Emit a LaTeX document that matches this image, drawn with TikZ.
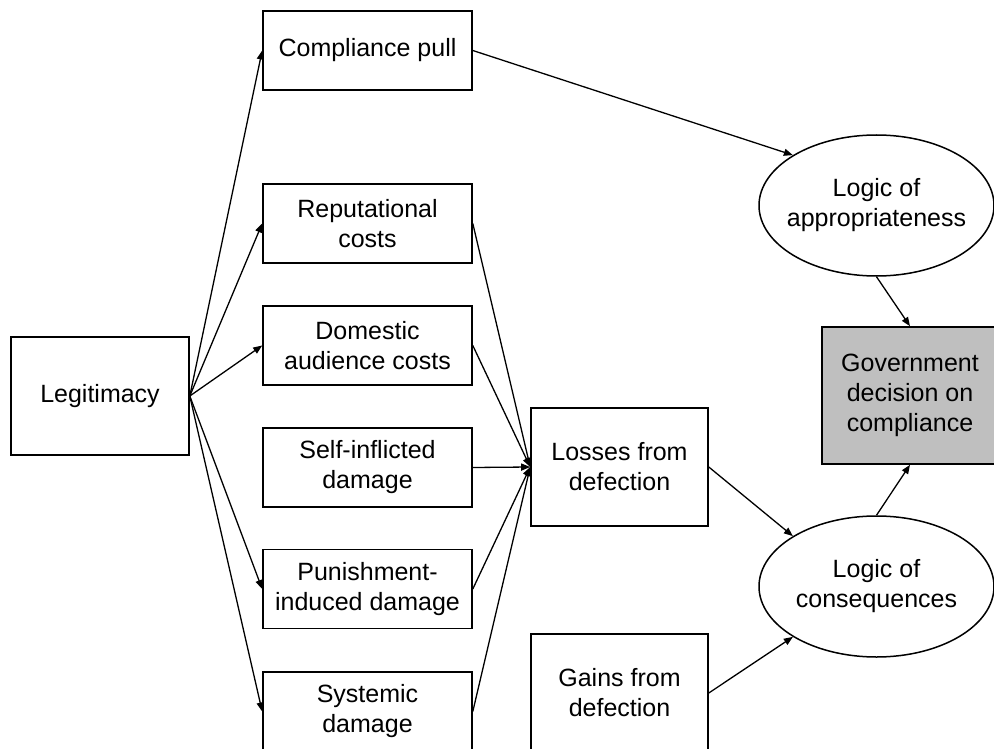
\documentclass[tikz,border=0pt]{standalone}
\usepackage{fontspec}
\setmainfont{Liberation Sans}
\usetikzlibrary{shapes.geometric,arrows.meta}

\tikzset{
  box/.style={draw, line width=1.6pt, rectangle, inner sep=0pt, align=center,
              minimum width=209pt, minimum height=79pt},
  bigbox/.style={box, minimum width=177pt, minimum height=118pt},
  govbox/.style={box, fill=black!25, minimum width=176pt, minimum height=137pt},
  oval/.style={draw, line width=1.5pt, ellipse, inner sep=0pt,
               minimum width=235pt, minimum height=141pt},
  ovaltext/.style={align=center},
  link/.style={line width=1.3pt, -{Triangle[length=9pt,width=7pt]}},
}

\begin{document}
\begin{tikzpicture}[x=1pt, y=-1pt, font=\fontsize{25}{30}\selectfont]
  \useasboundingbox (0,0) rectangle (994,749);

  % left column of drivers
  \node[box] (comp) at (367.5,50.5)  {Compliance pull};
  \node[box] (rep)  at (367.5,223.5) {Reputational\\costs};
  \node[box] (dom)  at (367.5,345.5) {Domestic\\audience costs};
  \node[box] (self) at (367.5,467.5) {Self-inflicted\\damage};
  \node[box] (pun)  at (367.5,589)   {Punishment-\\induced damage};
  \node[box] (sys)  at (367.5,711.5) {Systemic\\damage};

  % source
  \node[box, minimum width=178pt, minimum height=118pt] (legit) at (100,396) {Legitimacy};

  % middle column
  \node[bigbox] (loss) at (619.5,467) {Losses from\\defection};
  \node[bigbox] (gain) at (619.5,693) {Gains from\\defection};

  % logics and decision
  \node[oval] (app)  at (876.5,205.5) {};
  \node[ovaltext] (apptext) at (app.center) {Logic of\\appropriateness};
  \node[oval] (cons) at (876.5,586.5) {};
  \node[ovaltext] (constext) at (cons.center) {Logic of\\consequences};
  \node[govbox] (gov) at (910,395.5) {Government\\decision on\\compliance};

  % legitimacy fans out
  \foreach \t in {comp,rep,dom,pun,sys}
    \draw[link] (legit.east) -- (\t.west);

  % costs feed into losses
  \foreach \s in {rep,dom,self,pun,sys}
    \draw[link] (\s.east) -- (loss.west);

  \draw[link] (comp.east) -- (app.north west);
  \draw[link] (loss.east) -- (cons.north west);
  \draw[link] (gain.east) -- (cons.south west);
  \draw[link] (app.south) -- (gov.north);
  \draw[link] (cons.north) -- (gov.south);
\end{tikzpicture}
\end{document}
